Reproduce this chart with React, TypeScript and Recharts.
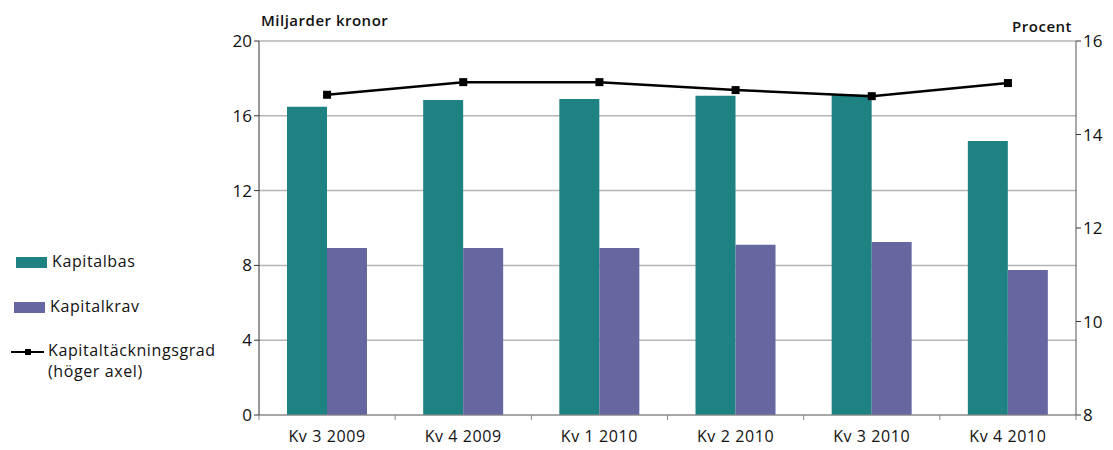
import {
  Bar,
  CartesianGrid,
  ComposedChart,
  Line,
  XAxis,
  YAxis,
} from "recharts";

// Values
const quarters = ["Kv 3 2009", "Kv 4 2009", "Kv 1 2010", "Kv 2 2010", "Kv 3 2010", "Kv 4 2010"];
const kapitalbas = [16.48, 16.85, 16.9, 17.07, 17.12, 14.65];
const kapitalkrav = [8.93, 8.93, 8.93, 9.1, 9.25, 7.75];
const kapitaltackningsgrad = [14.85, 15.12, 15.12, 14.95, 14.82, 15.1];

const leftTicks = [0, 4, 8, 12, 16, 20];
const rightTicks = [8, 10, 12, 14, 16];

const data = quarters.map((q, i) => ({
  quarter: q,
  bas: kapitalbas[i],
  krav: kapitalkrav[i],
  grad: kapitaltackningsgrad[i],
}));

const TEAL = "#1e8282";
const PURPLE = "#6667a1";
const FONT = "'Open Sans', 'Noto Sans', sans-serif";

const WIDTH = 1113;
const HEIGHT = 450;
const MARGIN = { top: 41, right: 0, bottom: 5, left: 219 };
const LEFT_W = 40;
const RIGHT_W = 37;
const PLOT_W = WIDTH - MARGIN.left - MARGIN.right - LEFT_W - RIGHT_W;
const STEP = PLOT_W / quarters.length;

// category label plus tick marks on the band boundaries
function QuarterTick(props: any) {
  const { x, y, payload, index } = props;
  const half = STEP / 2;
  return (
    <g>
      {index === 0 && (
        <line x1={x - half} x2={x - half} y1={y - 8} y2={y - 3} stroke="#888" />
      )}
      <line x1={x + half} x2={x + half} y1={y - 8} y2={y - 3} stroke="#888" />
      <text
        x={x}
        y={y + 19}
        textAnchor="middle"
        fontSize={16}
        letterSpacing={0.6}
        fill="#111"
        fontFamily={FONT}
      >
        {payload.value}
      </text>
    </g>
  );
}

function SquareDot(props: any) {
  const { cx, cy } = props;
  if (cx == null || cy == null) return null;
  return <rect x={cx - 4} y={cy - 4} width={8} height={8} fill="#000" />;
}

function Legend() {
  const text = {
    fontFamily: FONT,
    fontSize: 16,
    letterSpacing: 0.6,
    color: "#111",
    lineHeight: "21px",
  };
  return (
    <div style={{ position: "absolute", left: 0, top: 0, width: 250, height: HEIGHT }}>
      <div style={{ position: "absolute", left: 16, top: 257, width: 31, height: 11, background: TEAL }} />
      <div style={{ ...text, position: "absolute", left: 52, top: 251 }}>Kapitalbas</div>
      <div style={{ position: "absolute", left: 14, top: 302, width: 31, height: 11, background: PURPLE }} />
      <div style={{ ...text, position: "absolute", left: 50, top: 296 }}>Kapitalkrav</div>
      <div style={{ position: "absolute", left: 11, top: 351, width: 33, height: 2, background: "#000" }} />
      <div style={{ position: "absolute", left: 25, top: 349, width: 6, height: 6, background: "#000" }} />
      <div style={{ ...text, position: "absolute", left: 48, top: 340 }}>
        Kapitaltäckningsgrad
        <br />
        (höger axel)
      </div>
    </div>
  );
}

export default function App() {
  const title = {
    position: "absolute" as const,
    fontFamily: FONT,
    fontSize: 15,
    fontWeight: 600,
    letterSpacing: 0.5,
    color: "#111",
  };
  return (
    <div style={{ position: "absolute", left: 0, top: 0, width: WIDTH, height: HEIGHT, background: "#fff" }}>
      <ComposedChart
        width={WIDTH}
        height={HEIGHT}
        data={data}
        margin={MARGIN}
        barGap={0}
      >
        <CartesianGrid yAxisId="left" vertical={false} stroke="#b5b5b5" strokeWidth={1.5} />
        <XAxis
          dataKey="quarter"
          yAxisId="left"
          tick={<QuarterTick />}
          tickLine={false}
          axisLine={{ stroke: "#888" }}
          height={30}
          interval={0}
        />
        <YAxis
          yAxisId="left"
          width={LEFT_W}
          domain={[0, 20]}
          ticks={leftTicks}
          tickSize={5}
          tickLine={{ stroke: "#333" }}
          axisLine={{ stroke: "#333" }}
          tick={{ fontSize: 17, fill: "#111", fontFamily: FONT }}
        />
        <YAxis
          yAxisId="right"
          orientation="right"
          width={RIGHT_W}
          domain={[8, 16]}
          ticks={rightTicks}
          tickSize={5}
          tickLine={{ stroke: "#333" }}
          axisLine={{ stroke: "#555" }}
          tick={{ fontSize: 17, fill: "#111", fontFamily: FONT }}
        />
        <Bar yAxisId="left" dataKey="bas" fill={TEAL} barSize={40} isAnimationActive={false} />
        <Bar yAxisId="left" dataKey="krav" fill={PURPLE} barSize={40} isAnimationActive={false} />
        <Line
          yAxisId="right"
          dataKey="grad"
          stroke="#000"
          strokeWidth={2.5}
          dot={<SquareDot />}
          activeDot={false}
          isAnimationActive={false}
        />
      </ComposedChart>
      <div style={{ ...title, left: 261, top: 10 }}>Miljarder kronor</div>
      <div style={{ ...title, right: 41, top: 16 }}>Procent</div>
      <Legend />
    </div>
  );
}
